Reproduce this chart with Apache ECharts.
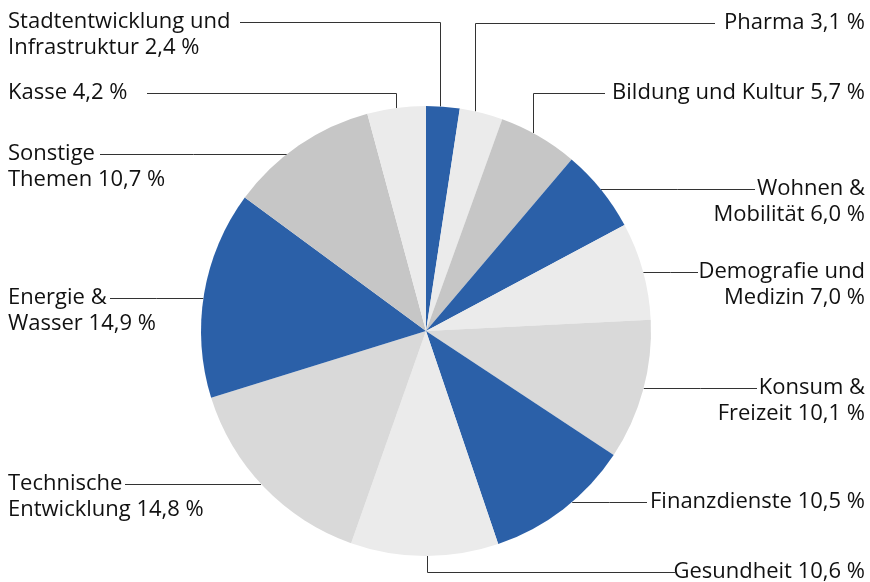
<!DOCTYPE html>
<html lang="de">
<head>
<meta charset="UTF-8">
<title>Themen</title>
<script src="https://cdn.jsdelivr.net/npm/echarts@6/dist/echarts.min.js"></script>
<style>
  html, body { margin: 0; padding: 0; background: #fff; }
  #main { width: 870px; height: 582px; }
</style>
</head>
<body>
<div id="main"></div>
<script>
  // Daten (im Uhrzeigersinn ab 12 Uhr)
  var themen = [
    "Stadtentwicklung und\nInfrastruktur",
    "Pharma",
    "Bildung und Kultur",
    "Wohnen &\nMobilität",
    "Demografie und\nMedizin",
    "Konsum &\nFreizeit",
    "Finanzdienste",
    "Gesundheit",
    "Technische\nEntwicklung",
    "Energie &\nWasser",
    "Sonstige\nThemen",
    "Kasse"
  ];
  var anteile = [2.4, 3.1, 5.7, 6.0, 7.0, 10.1, 10.5, 10.6, 14.8, 14.9, 10.7, 4.2];

  // Farben
  var blau = '#2b60a8', hell = '#ebebeb', mittel = '#c6c6c6', grau = '#d9d9d9';
  var farben = [blau, hell, mittel, blau, hell, grau, blau, hell, grau, blau, mittel, hell];

  // Kreis und Beschriftungs-Layout
  var cx = 426, cy = 331, r = 225;
  // seite, y der Linie, Ende der Linie am Text, x der senkrechten Linie (optional)
  var fuehrung = [
    {s: 'l', y: 22,  end: 240, knick: 440},
    {s: 'r', y: 23,  end: 715, knick: 475},
    {s: 'r', y: 93,  end: 605, knick: 533},
    {s: 'r', y: 189, end: 755},
    {s: 'r', y: 272, end: 698},
    {s: 'r', y: 388, end: 757},
    {s: 'r', y: 502, end: 647},
    {s: 'r', y: 572, end: 675, knick: 427},
    {s: 'l', y: 484, end: 125},
    {s: 'l', y: 298, end: 110},
    {s: 'l', y: 154, end: 100},
    {s: 'l', y: 93,  end: 147, knick: 396}
  ];

  function fmt(v) {
    return v.toFixed(1).replace('.', ',') + ' %';
  }

  var daten = themen.map(function (t, i) {
    return {name: t, value: anteile[i], itemStyle: {color: farben[i]}};
  });

  var chart = echarts.init(document.getElementById('main'));
  chart.setOption({
    animation: false,
    series: [{
      type: 'pie',
      center: [cx, cy],
      radius: r,
      startAngle: 90,
      clockwise: true,
      avoidLabelOverlap: false,
      data: daten,
      itemStyle: {borderWidth: 0},
      emphasis: {disabled: true},
      label: {
        show: true,
        formatter: function (p) { return p.name + ' ' + fmt(p.value); },
        fontFamily: 'Open Sans',
        fontSize: 22,
        lineHeight: 26,
        color: '#111'
      },
      labelLine: {
        show: true,
        lineStyle: {color: '#333', width: 1}
      },
      labelLayout: function (params) {
        var f = fuehrung[params.dataIndex];
        var ly = f.y + 0.5;
        var start, mid;
        if (f.knick !== undefined) {
          var dx = f.knick - cx;
          var h = Math.sqrt(r * r - dx * dx);
          var sy = f.y < cy ? cy - h : cy + h;
          start = [f.knick + 0.5, sy];
          mid = [f.knick + 0.5, ly];
        } else {
          var dy = f.y - cy;
          var w = Math.sqrt(r * r - dy * dy);
          var sx = f.s === 'l' ? cx - w : cx + w;
          start = [sx, ly];
          mid = [(sx + f.end) / 2, ly];
        }
        return {
          x: f.s === 'l' ? 8 : 865,
          y: f.y - 13,
          align: f.s === 'l' ? 'left' : 'right',
          verticalAlign: 'top',
          labelLinePoints: [start, mid, [f.end, ly]]
        };
      }
    }]
  });
</script>
</body>
</html>
